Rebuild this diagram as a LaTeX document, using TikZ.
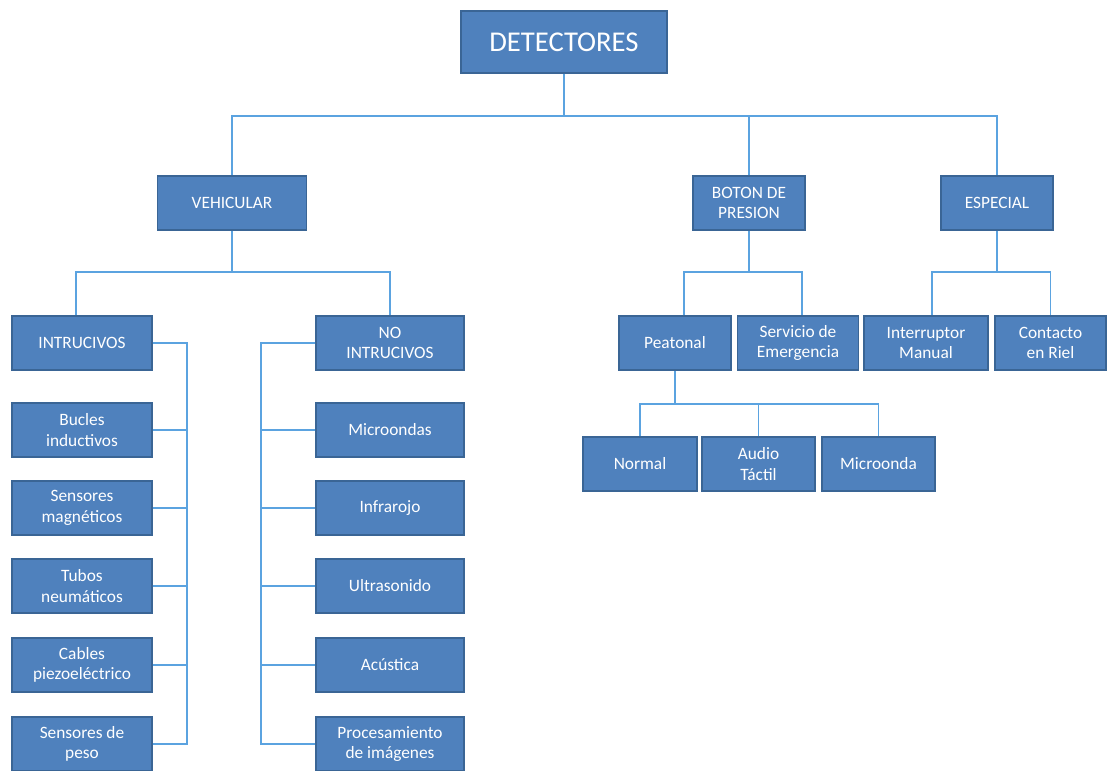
\documentclass[tikz,border=0pt]{standalone}
\usepackage{fontspec}
\setmainfont{Carlito}
\definecolor{boxfill}{HTML}{4F81BD}
\definecolor{boxline}{HTML}{3A6595}
\definecolor{connline}{HTML}{5BA3E0}
\tikzset{
  chartbox/.style={draw=boxline, line width=1.1pt, fill=boxfill, text=white,
    align=center, inner sep=0pt, minimum height=40.5pt,
    font=\fontsize{13}{15.5}\selectfont},
  conn/.style={draw=connline, line width=1.1pt}
}
\begin{document}
\begin{tikzpicture}[x=0.75pt,y=-0.75pt]
\useasboundingbox (0,0) rectangle (1107,771);
% top
\node[chartbox, minimum width=154.5pt, minimum height=46.5pt, font=\fontsize{21.5}{25}\selectfont] (det) at (564,42) {DETECTORES};
\node[chartbox, minimum width=111.75pt] (veh) at (232,203) {VEHICULAR};
\node[chartbox, minimum width=84pt] (bot) at (749,203) {BOTON DE\\PRESION};
\node[chartbox, minimum width=84pt] (esp) at (997,203) {ESPECIAL};
% vehicular
\node[chartbox, minimum width=105pt] (intr) at (82,343) {INTRUCIVOS};
\node[chartbox, minimum width=111pt] (nointr) at (390,343) {NO\\INTRUCIVOS};
\node[chartbox, minimum width=105pt] (l1) at (82,430) {Bucles\\inductivos};
\node[chartbox, minimum width=105pt] (l2) at (82,508) {Sensores\\magnéticos};
\node[chartbox, minimum width=105pt] (l3) at (82,586) {Tubos\\neumáticos};
\node[chartbox, minimum width=105pt] (l4) at (82,665) {Cables\\piezoeléctrico};
\node[chartbox, minimum width=105pt] (l5) at (82,744) {Sensores de\\peso};
\node[chartbox, minimum width=111pt] (r1) at (390,430) {Microondas};
\node[chartbox, minimum width=111pt] (r2) at (390,508) {Infrarojo};
\node[chartbox, minimum width=111pt] (r3) at (390,586) {Ultrasonido};
\node[chartbox, minimum width=111pt] (r4) at (390,665) {Acústica};
\node[chartbox, minimum width=111pt] (r5) at (390,744) {Procesamiento\\de imágenes};
% boton / especial
\node[chartbox, minimum width=84pt] (pea) at (675,343) {Peatonal};
\node[chartbox, minimum width=90.75pt] (ser) at (798,343) {Servicio de\\Emergencia};
\node[chartbox, minimum width=93pt] (int) at (926,343) {Interruptor\\Manual};
\node[chartbox, minimum width=83.25pt] (con) at (1050.5,343) {Contacto\\en Riel};
\node[chartbox, minimum width=85.5pt] (nor) at (640,464) {Normal};
\node[chartbox, minimum width=84.75pt] (aud) at (758.5,464) {Audio\\Táctil};
\node[chartbox, minimum width=84.75pt] (mic) at (878.5,464) {Microonda};
% hub coordinates
\coordinate (h1) at (564,116);
\coordinate (h2) at (232,272);
\coordinate (h3) at (749,272);
\coordinate (h4) at (997,272);
\coordinate (h5) at (675,404);
\coordinate (bl) at (187,343);
\coordinate (br) at (261,343);
% connectors top
\draw[conn] (det.south) -- (h1);
\draw[conn] (veh.north) |- (h1) -| (esp.north);
\draw[conn] (bot.north) -- (bot.north |- h1);
% vehicular
\draw[conn] (veh.south) -- (h2);
\draw[conn] ([xshift=-4.5pt]intr.north) |- (h2) -| (nointr.north);
\draw[conn] (intr.east) -- (bl) -- (bl |- l5.east) -- (l5.east);
\foreach \n in {l1,l2,l3,l4} \draw[conn] (\n.east) -- (\n.east -| bl);
\draw[conn] (nointr.west) -- (br) -- (br |- r5.west) -- (r5.west);
\foreach \n in {r1,r2,r3,r4} \draw[conn] (\n.west) -- (\n.west -| br);
% boton
\draw[conn] (bot.south) -- (h3);
\draw[conn] ([xshift=6.75pt]pea.north) |- (h3) -| ([xshift=3pt]ser.north);
% especial
\draw[conn] (esp.south) -- (h4);
\draw[conn] ([xshift=4.5pt]int.north) |- (h4) -| (con.north);
% peatonal
\draw[conn] (pea.south) -- (h5);
\draw[conn] (nor.north) |- (h5) -| (mic.north);
\draw[conn] (aud.north) -- (aud.north |- h5);
\end{tikzpicture}
\end{document}
